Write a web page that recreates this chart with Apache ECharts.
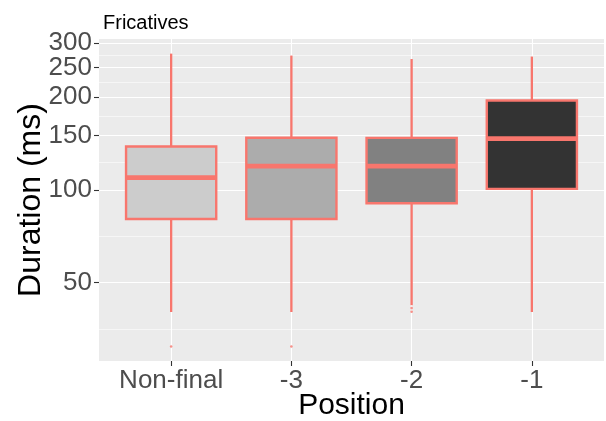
<!DOCTYPE html>
<html>
<head>
<meta charset="utf-8">
<script src="https://cdn.jsdelivr.net/npm/echarts@6/dist/echarts.min.js"></script>
<style>
  html, body { margin: 0; padding: 0; background: #fff; }
  #chart { width: 606px; height: 421px; }
</style>
</head>
<body>
<div id="chart"></div>
<script>
// boxplot stats (ms)
const positions = ['Non-final', '-3', '-2', '-1'];
const whiskerLow = [40.1, 40.1, 42.2, 40.1];
const lowerQuartile = [80.4, 80.4, 90.5, 100.7];
const medians = [109.6, 119.4, 119.4, 146.6];
const upperQuartile = [138.3, 147.7, 147.5, 195];
const whiskerHigh = [277, 273, 266, 271];
// [position index, value]
const outliers = [[0, 31.0], [1, 31.0], [2, 41.3], [2, 40.2]];
const yTicks = [50, 100, 150, 200, 250, 300];

const fills = ['#CCCCCC', '#ACACAC', '#818181', '#333333'];
const RED = '#F8766D';
const BOX_WIDTH = 0.75;
const Y_MIN = 27.8;
const Y_MAX = 309;

// minor gridlines halfway between breaks on the log scale (like ggplot)
const minorTicks = [];
for (let i = 0; i < yTicks.length - 1; i++) {
  minorTicks.push(Math.sqrt(yTicks[i] * yTicks[i + 1]));
}
minorTicks.unshift(Math.sqrt(yTicks[0] * yTicks[0] / 2));

// 300 and 250 sit close together, echarts would drop one of them,
// so the labels are split over two overlaid axes
const ticksA = yTicks.filter((v, i) => i % 2 === 0);
const ticksB = yTicks.filter((v, i) => i % 2 === 1);

const boxData = positions.map((p, i) => [
  i + 1, whiskerLow[i], lowerQuartile[i], medians[i], upperQuartile[i], whiskerHigh[i]
]);

function renderBox(params, api) {
  const x = api.value(0);
  const lo = api.coord([x, api.value(1)]);
  const b1 = api.coord([x, api.value(2)]);
  const md = api.coord([x, api.value(3)]);
  const b3 = api.coord([x, api.value(4)]);
  const hi = api.coord([x, api.value(5)]);
  const left = api.coord([x - BOX_WIDTH / 2, api.value(3)])[0];
  const right = api.coord([x + BOX_WIDTH / 2, api.value(3)])[0];
  const lineStyle = { stroke: RED, lineWidth: 2.3 };
  return {
    type: 'group',
    children: [
      { type: 'line', shape: { x1: hi[0], y1: hi[1], x2: b3[0], y2: b3[1] }, style: lineStyle },
      { type: 'line', shape: { x1: b1[0], y1: b1[1], x2: lo[0], y2: lo[1] }, style: lineStyle },
      {
        type: 'rect',
        shape: { x: left, y: b3[1], width: right - left, height: b1[1] - b3[1] },
        style: { fill: fills[params.dataIndex], stroke: RED, lineWidth: 2.4 }
      },
      { type: 'line', shape: { x1: left, y1: md[1], x2: right, y2: md[1] }, style: { stroke: RED, lineWidth: 4.7 } }
    ]
  };
}

function labelAxis(values, extra) {
  return Object.assign({
    type: 'log',
    logBase: 10,
    min: Y_MIN,
    max: Y_MAX,
    position: 'left',
    axisLine: { show: false },
    axisTick: { show: true, length: 5, customValues: values, lineStyle: { color: '#333', width: 1.1 } },
    axisLabel: { customValues: values, margin: 7, fontSize: 26, color: '#4D4D4D', hideOverlap: false },
    splitLine: { show: true, lineStyle: { color: '#FFFFFF', width: 1.1 } }
  }, extra);
}

const chart = echarts.init(document.getElementById('chart'));
const option = {
  animation: false,
  textStyle: { fontFamily: 'Liberation Sans' },
  title: {
    text: 'Fricatives',
    left: 98,
    top: 8,
    textStyle: { fontSize: 20, fontWeight: 'normal', color: '#000', fontFamily: 'Liberation Sans' }
  },
  grid: {
    left: 99, right: 2, top: 39, bottom: 60,
    outerBoundsMode: 'none',
    containLabel: false,
    show: true, backgroundColor: '#EBEBEB', borderWidth: 0
  },
  xAxis: {
    type: 'value',
    min: 0.4,
    max: 4.6,
    name: 'Position',
    nameLocation: 'middle',
    nameGap: 30,
    nameMoveOverlap: false,
    nameTextStyle: { fontSize: 30, color: '#000', fontFamily: 'Liberation Sans' },
    axisLine: { show: false },
    axisTick: { show: true, length: 5, customValues: [1, 2, 3, 4], lineStyle: { color: '#333', width: 1.1 } },
    axisLabel: {
      customValues: [1, 2, 3, 4],
      margin: 7,
      fontSize: 26,
      color: '#4D4D4D',
      hideOverlap: false,
      formatter: v => positions[Math.round(v) - 1]
    },
    splitLine: { show: true, lineStyle: { color: '#FFFFFF', width: 1.1 } }
  },
  yAxis: [
    labelAxis(ticksA, {
      name: 'Duration (ms)',
      nameLocation: 'middle',
      nameGap: 52,
      nameMoveOverlap: false,
      nameTextStyle: { fontSize: 32, color: '#000', fontFamily: 'Liberation Sans' }
    }),
    labelAxis(ticksB, {}),
    {
      type: 'log',
      logBase: 10,
      min: Y_MIN,
      max: Y_MAX,
      position: 'left',
      axisLine: { show: false },
      axisTick: { show: false, customValues: minorTicks },
      axisLabel: { show: false, customValues: minorTicks },
      splitLine: { show: true, lineStyle: { color: '#FFFFFF', width: 0.55 } }
    }
  ],
  series: [
    {
      type: 'custom',
      renderItem: renderBox,
      data: boxData,
      encode: { x: 0, y: [1, 2, 3, 4, 5] },
      z: 3
    },
    {
      type: 'scatter',
      data: outliers.map(o => [o[0] + 1, o[1]]),
      symbolSize: 2.6,
      itemStyle: { color: RED },
      z: 4
    }
  ]
};
chart.setOption(option);
</script>
</body>
</html>
